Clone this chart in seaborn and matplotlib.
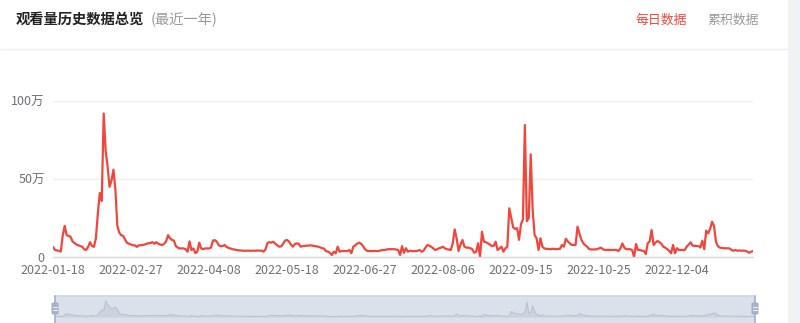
import numpy as np
import pandas as pd
import matplotlib
matplotlib.use("Agg")
import matplotlib.pyplot as plt
import matplotlib.dates as mdates
from matplotlib.patches import Rectangle, FancyBboxPatch
from matplotlib.lines import Line2D
import seaborn as sns

# ---------------- data (daily views, unit: 万) ----------------
start_date = "2022-01-18"
views_wan = [
    6.5, 4.5, 4.2, 4.0, 3.5, 14, 20, 14, 13.5, 13,
    10, 9, 8, 7.5, 7, 6.5, 5, 4.5, 6.5, 9.5,
    7, 6.5, 12, 28, 41, 36, 92, 68, 58, 45,
    49, 56, 43, 20, 15.5, 14, 13.5, 11, 9, 8.5,
    8, 7.5, 7.5, 6.5, 7.5, 7.5, 7.7, 8, 8.5, 8.8,
    9, 9.5, 8.5, 9.5, 8.5, 8, 7.7, 8.5, 10, 14,
    12, 11, 10.5, 7, 6, 5.5, 5.5, 5.5, 5, 3.4,
    10, 4.5, 5.5, 2.5, 3.4, 9.2, 5.5, 5, 5.5, 5.5,
    5.5, 6, 10.5, 10.8, 9.8, 7.5, 7, 7, 7.7, 6.5,
    5.8, 5.5, 5, 4.8, 4.5, 4.3, 4.2, 4.1, 4.0, 4.0,
    4.1, 4.0, 4.0, 4.1, 4.0, 4.2, 4.0, 4.1, 3.4, 5,
    9, 9.5, 9.2, 9.8, 8.5, 7.5, 6.6, 6.8, 8.5, 10.5,
    10.9, 10, 8, 6.6, 8.3, 8.7, 8.5, 6.6, 7, 7,
    7.3, 7.3, 7.5, 7.3, 7, 6.8, 6.6, 6.2, 5.6, 5.4,
    3.8, 3.5, 2.7, 1.3, 3.4, 2.4, 6.6, 3.4, 3.8, 3.8,
    3.8, 3.8, 4.5, 2.4, 6.6, 7.5, 8.5, 9.2, 8.5, 7,
    5, 4, 3.8, 3.8, 3.8, 3.9, 3.8, 3.8, 4.2, 4.5,
    4.5, 4.8, 5, 5, 5, 5, 4.8, 4.5, 1.3, 7,
    2.7, 5.6, 3.4, 4, 3.8, 3.8, 3.8, 4, 4.5, 3.4,
    4, 6, 7.7, 7.2, 6.6, 5.5, 4.5, 5, 5.6, 6,
    6.6, 5.5, 5, 4.8, 4.5, 8.7, 17.7, 12, 3.8, 8,
    10.9, 6.6, 6, 6, 5.6, 5, 2.7, 3.4, 8.8, 0.2,
    16.2, 9.8, 9.5, 8.8, 8, 7.1, 7.1, 9.8, 4.5, 5.5,
    6.6, 3.4, 5.6, 6.6, 31.2, 25, 19, 18, 18.5, 11,
    21, 24, 84.6, 23, 25, 65.8, 30, 14, 12, 4.5,
    12, 6.6, 5.5, 5.2, 5.2, 5, 5.2, 5.2, 5, 5.2,
    5.2, 7.7, 6.6, 11.7, 10, 8.8, 7.7, 7.7, 7.7, 19.4,
    15, 11, 8.8, 7.5, 6.6, 5, 4.9, 4.8, 4.9, 5,
    5.5, 6, 5, 4.5, 4.5, 4.6, 4.5, 4.5, 4.6, 4.5,
    3.8, 5.5, 8.7, 6, 5, 5, 5, 4.5, 0, 8.3,
    4.5, 4.5, 4, 4, 1.9, 8.7, 10, 17.3, 7.7, 9.2,
    10.3, 9.5, 8.5, 6.6, 6, 5, 4, 2.4, 7.7, 2.4,
    5.6, 4.5, 4.5, 4.5, 4.5, 6.6, 8, 9.4, 7.3, 7.2,
    7, 7, 6.1, 10.5, 5, 16.9, 15.2, 18, 22.6, 20,
    9.8, 7, 6, 5.8, 5.6, 5.6, 5.6, 5.5, 4.5, 4,
    4.5, 4, 4.2, 4, 4.1, 4, 3.5, 2.7, 3.4, 3.8,
]
x_tick_labels = ["2022-01-18", "2022-02-27", "2022-04-08", "2022-05-18",
                 "2022-06-27", "2022-08-06", "2022-09-15", "2022-10-25",
                 "2022-12-04"]
y_tick_values = [0, 50, 100]
y_tick_labels = ["0", "50万", "100万"]
title_main = "观看量历史数据总览"
title_sub = "(最近一年)"
tab_active = "每日数据"
tab_inactive = "累积数据"

df = pd.DataFrame({
    "date": pd.date_range(start_date, periods=len(views_wan), freq="D"),
    "views": views_wan,
})

# ---------------- style ----------------
sns.set_theme(style="white")
plt.rcParams["font.family"] = ["Noto Sans CJK SC", "DejaVu Sans"]

W, H = 800, 323
fig = plt.figure(figsize=(W / 100, H / 100), dpi=100)
fig.patch.set_facecolor("white")

def fx(px):
    return px / W

def fy(py):
    return 1 - py / H

# right gray strip
fig.add_artist(Rectangle((fx(788), 0), fx(12), 1, transform=fig.transFigure,
                         color="#f1f2f5", lw=0, zorder=0))
# header separator
fig.add_artist(Line2D([0, fx(788)], [fy(48.5), fy(48.5)], transform=fig.transFigure,
                      color="#eeeeee", lw=1))

# header texts
t = fig.text(fx(16), fy(20), title_main, fontsize=10.3, fontweight="bold",
             color="#222222", va="center", ha="left")
fig.canvas.draw()
bb = t.get_window_extent()
fig.text(bb.x1 / W + fx(6), fy(20), title_sub, fontsize=10.3, color="#999999",
         va="center", ha="left")
fig.text(fx(661), fy(20), tab_active, fontsize=9.3, color="#f2483b",
         va="center", ha="center")
fig.text(fx(733), fy(20), tab_inactive, fontsize=9.3, color="#999999",
         va="center", ha="center")

# ---------------- main chart ----------------
ax = fig.add_axes([fx(53), fy(257), fx(700), (257 - 101) / H])
sns.lineplot(data=df, x="date", y="views", ax=ax, color="#f2453b", lw=1.6)
ax.set_xlim(df["date"].iloc[0], df["date"].iloc[-1])
ax.set_ylim(0, 100)
ax.set_yticks(y_tick_values)
ax.set_yticklabels(y_tick_labels)
ax.set_xticks(pd.to_datetime(x_tick_labels))
ax.set_xticklabels(x_tick_labels)
ax.set_xlabel("")
ax.set_ylabel("")
for s in ["top", "right", "left"]:
    ax.spines[s].set_visible(False)
ax.spines["bottom"].set_color("#d9d9d9")
ax.spines["bottom"].set_linewidth(1)
ax.grid(axis="y", color="#efefef", lw=1)
ax.grid(axis="x", visible=False)
ax.set_axisbelow(True)
ax.tick_params(axis="both", length=0, labelsize=9, colors="#6e7079")
ax.tick_params(axis="y", pad=6)
ax.tick_params(axis="x", pad=5)
ax.set_facecolor("none")

# ---------------- data-zoom slider ----------------
axz = fig.add_axes([fx(55), 0, fx(700), (323 - 296) / H])
axz.set_facecolor("#dbe1ea")
sns.lineplot(data=df, x="date", y="views", ax=axz, color="#b9c3d1", lw=0.8)
axz.fill_between(df["date"], df["views"], 0, color="#ccd3de", lw=0)
axz.set_xlim(df["date"].iloc[0], df["date"].iloc[-1])
axz.set_ylim(-34, 120)
axz.set_xticks([])
axz.set_yticks([])
axz.set_xlabel("")
axz.set_ylabel("")
for s in axz.spines.values():
    s.set_visible(False)
axz.spines["top"].set_visible(True)
axz.spines["top"].set_color("#cfd6e0")

# handles
for hx in (55, 755):
    fig.add_artist(Line2D([fx(hx), fx(hx)], [0, fy(296)], transform=fig.transFigure,
                          color="#a3b2c8", lw=1.2))
    fig.add_artist(FancyBboxPatch((fx(hx - 3), fy(314)), fx(6), (314 - 303) / H,
                                  boxstyle="round,pad=0,rounding_size=0.002",
                                  transform=fig.transFigure, fc="#a9b8cd",
                                  ec="#95a6bf", lw=0.6))
    for hy in (307, 310):
        fig.add_artist(Line2D([fx(hx - 1.8), fx(hx + 1.8)], [fy(hy), fy(hy)],
                              transform=fig.transFigure, color="white", lw=0.6))

fig.savefig("out.png", dpi=100, facecolor="white")
